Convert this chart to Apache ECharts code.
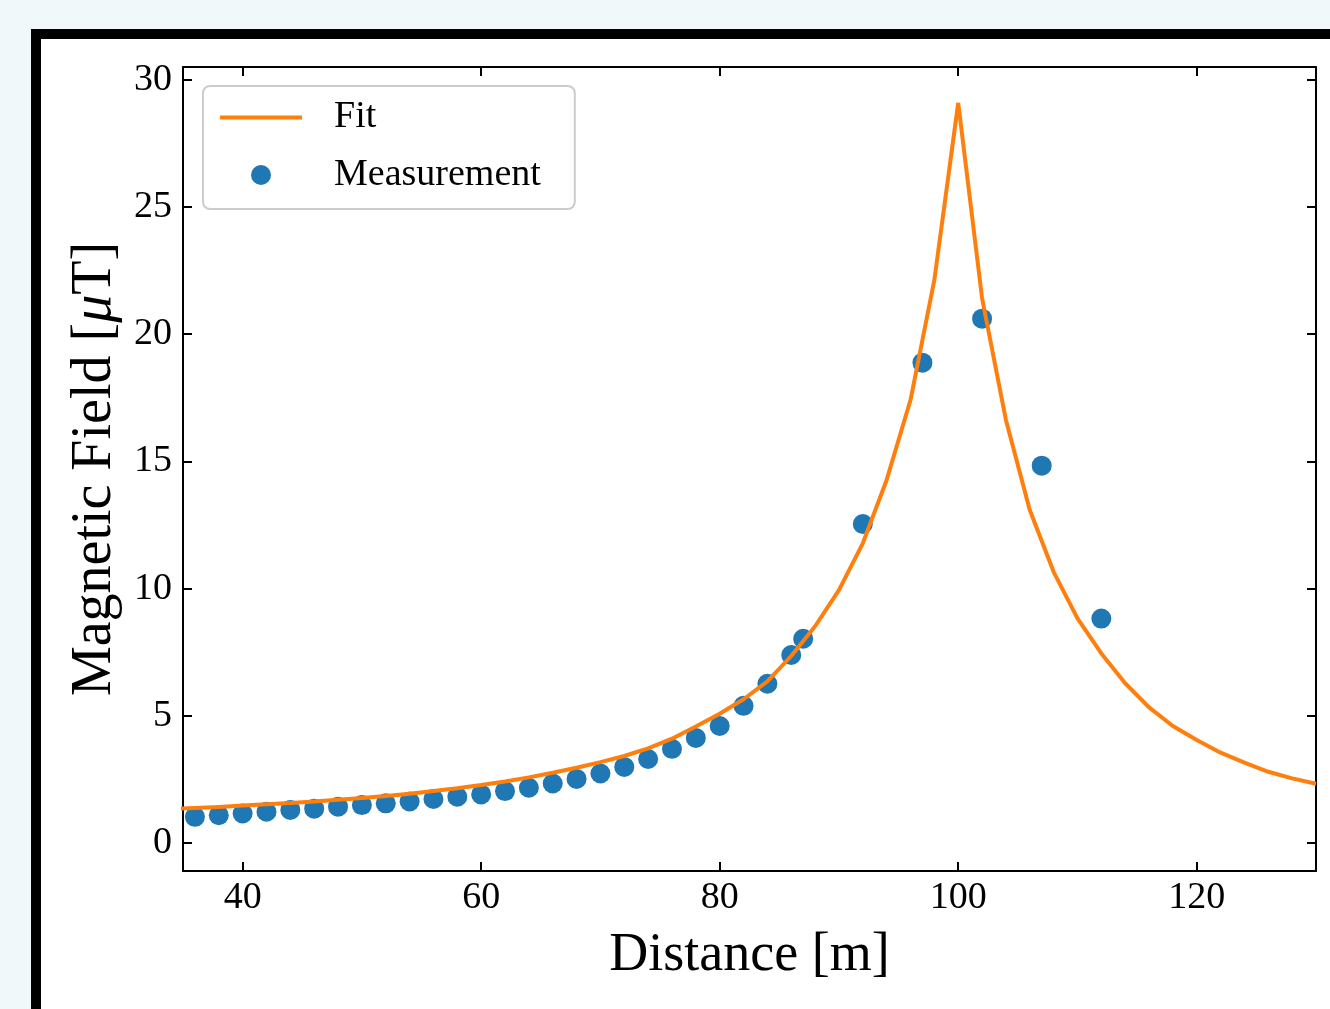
<!DOCTYPE html>
<html>
<head>
<meta charset="utf-8">
<script src="https://cdn.jsdelivr.net/npm/echarts@6/dist/echarts.min.js"></script>
<style>
  html, body { margin: 0; padding: 0; width: 1330px; height: 1009px; overflow: hidden; background: #f0f8fa; }
  #frame { position: absolute; left: 31px; top: 29px; width: 1400px; height: 1100px; border: 10px solid #000; background: #fff; }
  #chart { position: absolute; left: 41px; top: 39px; width: 1289px; height: 970px; }
</style>
</head>
<body>
<div id="frame"></div>
<div id="chart"></div>
<script>
// Measurement points
const measX = [36, 38, 40, 42, 44, 46, 48, 50, 52, 54, 56, 58, 60, 62, 64, 66, 68, 70, 72, 74, 76, 78, 80, 82, 84, 86, 87, 92, 97, 102, 107, 112];
const measY = [1.03, 1.09, 1.16, 1.23, 1.30, 1.35, 1.43, 1.49, 1.56, 1.63, 1.73, 1.82, 1.91, 2.04, 2.17, 2.34, 2.52, 2.73, 2.99, 3.30, 3.70, 4.13, 4.60, 5.39, 6.26, 7.39, 8.03, 12.54, 18.88, 20.61, 14.83, 8.82];

// Fit curve samples
const fitX = [34, 36, 38, 40, 42, 44, 46, 48, 50, 52, 54, 56, 58, 60, 62, 64, 66, 68, 70, 72, 74, 76, 78, 80, 82, 84, 86, 88, 90, 92, 94, 96, 98, 100, 102, 104, 106, 108, 110, 112, 114, 116, 118, 120, 122, 124, 126, 128, 130];
const fitY = [1.34, 1.38, 1.42, 1.47, 1.52, 1.57, 1.63, 1.70, 1.77, 1.85, 1.94, 2.04, 2.15, 2.28, 2.42, 2.58, 2.76, 2.96, 3.18, 3.42, 3.72, 4.10, 4.58, 5.08, 5.65, 6.35, 7.35, 8.52, 9.94, 11.78, 14.27, 17.41, 22.13, 29.09, 21.42, 16.63, 13.09, 10.66, 8.83, 7.45, 6.28, 5.33, 4.60, 4.05, 3.55, 3.16, 2.80, 2.54, 2.33];

// Axis ticks
const xTicks = [40, 60, 80, 100, 120];
const yTicks = [0, 5, 10, 15, 20, 25, 30];

const FONT = '"Liberation Serif", "DejaVu Serif", serif';
const chart = echarts.init(document.getElementById('chart'), null, { renderer: 'canvas' });

const axisLineStyle = { color: '#000', width: 2 };
const tickStyle = { color: '#000', width: 2 };

const option = {
  backgroundColor: '#ffffff',
  animation: false,
  grid: { left: 142, top: 28, right: 14, bottom: 138, containLabel: false },
  legend: {
    orient: 'vertical',
    left: 162,
    top: 47,
    data: [
      { name: 'Fit', itemStyle: { opacity: 0 }, lineStyle: { width: 4, color: '#ff7f0e' }, textStyle: { padding: [3, 0, 0, 27] } },
      { name: 'Measurement' }
    ],
    itemWidth: 82,
    itemHeight: 20,
    itemGap: 18,
    padding: [11, 34, 15, 15],
    backgroundColor: 'rgba(255,255,255,0.8)',
    borderColor: '#cccccc',
    borderWidth: 2,
    borderRadius: 7,
    textStyle: { fontFamily: FONT, fontSize: 38, lineHeight: 38, color: '#000', padding: [0, 0, 0, 27] }
  },
  xAxis: [
    {
      type: 'value', min: 35, max: 130, position: 'bottom',
      name: 'Distance [m]', nameLocation: 'middle', nameGap: 58,
      nameTextStyle: { fontFamily: FONT, fontSize: 54, color: '#000' },
      axisLine: { show: true, onZero: false, lineStyle: axisLineStyle },
      axisTick: { show: true, inside: true, length: 9, lineStyle: tickStyle, customValues: xTicks },
      axisLabel: { show: true, margin: 8, fontFamily: FONT, fontSize: 38, color: '#000', customValues: xTicks },
      splitLine: { show: false }
    },
    {
      type: 'value', min: 35, max: 130, position: 'top',
      axisLine: { show: true, onZero: false, lineStyle: axisLineStyle },
      axisTick: { show: true, inside: true, length: 9, lineStyle: tickStyle, customValues: xTicks },
      axisLabel: { show: false },
      splitLine: { show: false }
    }
  ],
  yAxis: [
    {
      type: 'value', min: -1.1, max: 30.5, position: 'left',
      name: 'Magnetic Field [{it|μ}T]', nameLocation: 'middle', nameGap: 60, nameRotate: 90,
      nameTextStyle: { fontFamily: FONT, fontSize: 56, color: '#000',
        rich: { it: { fontFamily: FONT, fontSize: 56, fontStyle: 'italic', color: '#000' } } },
      axisLine: { show: true, onZero: false, lineStyle: axisLineStyle },
      axisTick: { show: true, inside: true, length: 9, lineStyle: tickStyle, customValues: yTicks },
      axisLabel: { show: true, margin: 11, fontFamily: FONT, fontSize: 38, color: '#000', customValues: yTicks },
      splitLine: { show: false }
    },
    {
      type: 'value', min: -1.1, max: 30.5, position: 'right',
      axisLine: { show: true, onZero: false, lineStyle: axisLineStyle },
      axisTick: { show: true, inside: true, length: 9, lineStyle: tickStyle, customValues: yTicks },
      axisLabel: { show: false },
      splitLine: { show: false }
    }
  ],
  series: [
    {
      name: 'Measurement', type: 'scatter', xAxisIndex: 0, yAxisIndex: 0,
      symbol: 'circle', symbolSize: 20, z: 2,
      itemStyle: { color: '#1f77b4', opacity: 1 },
      data: measX.map((x, i) => [x, measY[i]])
    },
    {
      name: 'Fit', type: 'line', xAxisIndex: 0, yAxisIndex: 0,
      symbol: 'none', showSymbol: false, smooth: false, clip: true, z: 3,
      lineStyle: { color: '#ff7f0e', width: 4 },
      itemStyle: { color: '#ff7f0e' },
      data: fitX.map((x, i) => [x, fitY[i]])
    }
  ]
};
chart.setOption(option);
</script>
</body>
</html>
